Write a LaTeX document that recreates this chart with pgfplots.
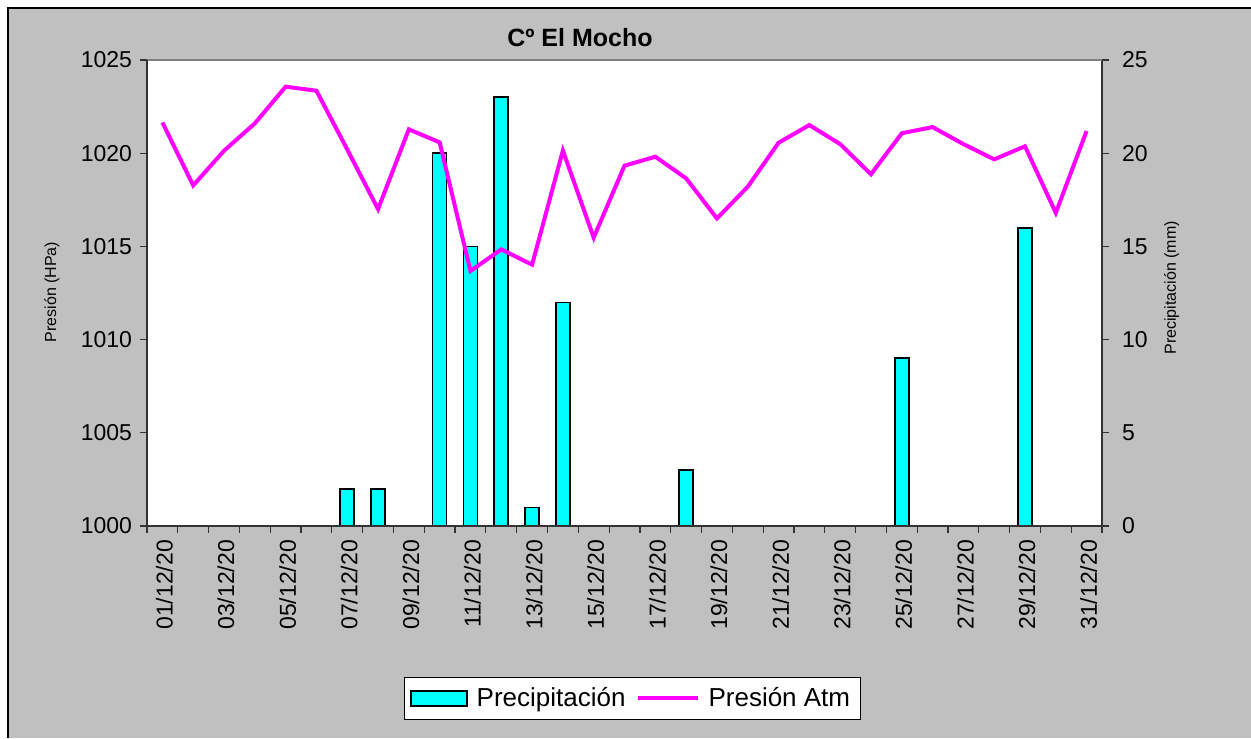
\documentclass[border=0pt]{standalone}
\usepackage{fontspec}
\setmainfont{Liberation Sans}
\usepackage{pgfplots}
\pgfplotsset{compat=1.18}
\definecolor{bgGrey}{RGB}{192,192,192}
\definecolor{barCyan}{RGB}{0,255,255}
\definecolor{lineMag}{RGB}{255,0,255}

\pgfplotsset{
  common/.style={
    at={(73.5pt,106pt)}, anchor=south west,
    scale only axis, width=477.5pt, height=233pt,
    xmin=0.5, xmax=31.5,
    tick align=outside,
    major tick length=3.5pt,
    axis line style={black!80, line width=0.8pt},
    every tick/.style={black!80, line width=0.6pt},
    /pgf/number format/assume math mode=true,
    /pgf/number format/1000 sep={},
    tick label style={font=\fontsize{11.5}{13}\selectfont},
  },
  linelegend/.style={legend image code/.code={\draw[##1] (0pt,0pt) -- (30pt,0pt);}},
  barlegend/.style={legend image code/.code={\draw[fill=barCyan, draw=black, line width=0.8pt] (0pt,-3.75pt) rectangle (28pt,3.75pt);}},
}

\begin{document}
\begin{tikzpicture}[x=1pt,y=1pt]
\useasboundingbox (0,0) rectangle (625.5,369);
\fill[white] (0,0) rectangle (625.5,369);
\fill[bgGrey] (4,0) rectangle (625.5,365);
\draw[black, line width=0.8pt] (4,0) -- (4,365) -- (625.5,365);
\node[font=\bfseries\fontsize{12.5}{14}\selectfont] at (290,350) {Cº El Mocho};

% Precipitation bars (right axis)
\begin{axis}[common,
  axis background/.style={fill=white},
  axis x line*=bottom, axis y line*=right,
  ymin=0, ymax=25, ytick={0,5,...,25},
  xtick={0.5,1.5,...,31.5}, xticklabels={},
  ylabel={Precipitación (mm)},
  ylabel style={at={(axis description cs:1.073,0.511)}, anchor=center, rotate=0, font=\fontsize{8}{9}\selectfont},
  yticklabel style={xshift=3pt},
]
\addplot[ybar, bar width=7pt, bar shift=0pt, fill=barCyan, draw=black, line width=0.8pt] coordinates {
(1,0) (2,0) (3,0) (4,0) (5,0) (6,0) (7,2) (8,2) (9,0) (10,20)
(11,15) (12,23) (13,1) (14,12) (15,0) (16,0) (17,0) (18,3) (19,0) (20,0)
(21,0) (22,0) (23,0) (24,0) (25,9) (26,0) (27,0) (28,0) (29,16) (30,0) (31,0)
};
\draw[black!50, line width=1pt] (rel axis cs:0,1) -- (rel axis cs:1,1);
\end{axis}

% Pressure line (left axis)
\begin{axis}[common,
  axis x line*=bottom, axis y line*=left,
  ymin=1000, ymax=1025, ytick={1000,1005,...,1025},
  xtick={1,3,...,31},
  xticklabels={01/12/20,03/12/20,05/12/20,07/12/20,09/12/20,11/12/20,13/12/20,15/12/20,17/12/20,19/12/20,21/12/20,23/12/20,25/12/20,27/12/20,29/12/20,31/12/20},
  xtick style={draw=none},
  xticklabel style={rotate=90, anchor=east, yshift=-1pt, font=\fontsize{11.5}{13}\selectfont},
  yticklabel style={xshift=-0.5pt},
  ylabel={Presión (HPa)},
  ylabel style={at={(axis description cs:-0.0995,0.502)}, anchor=center, font=\fontsize{8}{9}\selectfont},
  legend columns=2,
  legend style={at={(axis description cs:0.508,-0.370)}, anchor=center, draw=black, fill=white,
    font=\fontsize{13}{15}\selectfont, inner xsep=3pt, inner ysep=3pt,
    /tikz/every odd column/.append style={column sep=2.5pt},
    /tikz/every even column/.append style={column sep=3pt}},
]
\addlegendimage{barlegend}
\addlegendentry{Precipitación}
\addplot[lineMag, line width=2pt, mark=none, linelegend] coordinates {
(1,1021.65) (2,1018.27) (3,1020.13) (4,1021.6) (5,1023.57) (6,1023.35) (7,1020.2) (8,1017.0) (9,1021.28) (10,1020.58)
(11,1013.68) (12,1014.84) (13,1014.02) (14,1020.14) (15,1015.47) (16,1019.33) (17,1019.81) (18,1018.65) (19,1016.5) (20,1018.2)
(21,1020.56) (22,1021.51) (23,1020.49) (24,1018.87) (25,1021.07) (26,1021.4) (27,1020.49) (28,1019.67) (29,1020.37) (30,1016.8) (31,1021.19)
};
\addlegendentry{Presión Atm}
\end{axis}
\end{tikzpicture}
\end{document}
